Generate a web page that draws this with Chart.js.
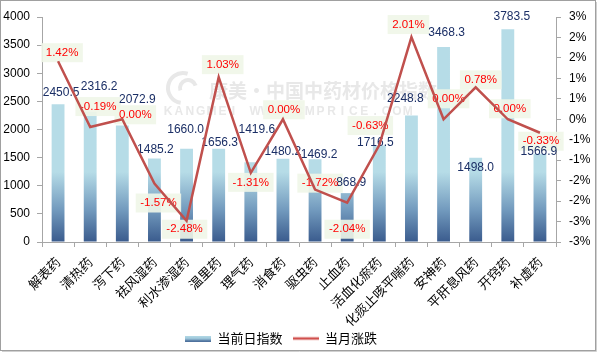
<!DOCTYPE html>
<html>
<head>
<meta charset="utf-8">
<script src="https://cdn.jsdelivr.net/npm/chart.js@4.4.0/dist/chart.umd.min.js"></script>
<style>
  html, body { margin: 0; padding: 0; background: #fff; }
  #wrap { width: 598px; height: 353px; }
</style>
</head>
<body>
<div id="wrap"><canvas id="chart" width="598" height="353"></canvas></div>
<script>
/* ---------------- Data ---------------- */
const categories = ['解表药', '清热药', '泻下药', '祛风湿药', '利水渗湿药', '温里药', '理气药', '消食药',
  '驱虫药', '止血药', '活血化瘀药', '化痰止咳平喘药', '安神药', '平肝息风药', '开窍药', '补虚药'];
const indexValues = [2450.5, 2316.2, 2072.9, 1485.2, 1660.0, 1656.3, 1419.6, 1480.2,
  1469.2, 868.9, 1716.5, 2248.8, 3468.3, 1498.0, 3783.5, 1566.9];
const monthChange = [1.42, -0.19, 0.00, -1.57, -2.48, 1.03, -1.31, 0.00,
  -1.72, -2.04, -0.63, 2.01, 0.00, 0.78, 0.00, -0.33];
const seriesNames = ['当前日指数', '当月涨跌'];

/* label nudges (px) so labels sit where the original ones were dragged */
const barLabelShift = [[3,-11],[9,-25],[15,-26],[1,-9],[-1,-19],[1,-6],[6,-32],[0,-7],
  [4,-5],[4,-10],[-4,-3],[-6,-17],[3,-14],[0,10],[4,-12],[-1,-2]];
const pctLabelShift = [[4,-9],[8,-21],[13,-5],[4,19],[-2,8],[4,-13],[0,9],[1,-10],
  [5,-7],[0,26],[-9,-20],[-3,-13],[5,-21],[5,-8],[2,-11],[1,8]];

const NUM_FONT = "'Liberation Sans', Arial, sans-serif";
const CJK_FONT = "'Noto Sans CJK SC', sans-serif";

/* ---------------- Legend swatches ---------------- */
function swatch(w, h, draw) {
  const c = document.createElement('canvas');
  c.width = w; c.height = h;
  draw(c.getContext('2d'));
  return c;
}
const barSwatch = swatch(26, 6, g => {
  const gr = g.createLinearGradient(0, 0, 0, 6);
  gr.addColorStop(0, '#b6dce7');
  gr.addColorStop(0.55, '#9cc6da');
  gr.addColorStop(1, '#3d5f90');
  g.fillStyle = gr;
  g.fillRect(0, 0, 26, 6);
});
const lineSwatch = swatch(26, 6, g => {
  g.strokeStyle = '#d0504d';
  g.lineWidth = 2.5;
  g.beginPath(); g.moveTo(0, 3); g.lineTo(26, 3); g.stroke();
});

/* ---------------- Plugins ---------------- */
// white page with grey frame; legend nudged to where Excel put it
const framePlugin = {
  id: 'frame',
  afterLayout(chart) {
    const lg = chart.legend;
    if (lg) {
      lg.top += 6; lg.bottom += 6;
      lg.right -= 36;
    }
    // let the long rotated category names run past the axis box (no clipping)
    chart.scales.x.bottom = chart.height;
  },
  beforeDraw(chart) {
    const ctx = chart.ctx;
    ctx.save();
    ctx.fillStyle = '#fff';
    ctx.fillRect(0, 0, chart.width, chart.height);
    ctx.strokeStyle = '#a0a0a0';
    ctx.lineWidth = 1;
    ctx.strokeRect(0.5, 0.5, chart.width - 3, chart.height - 3);
    ctx.strokeStyle = '#d0d0d0';
    ctx.beginPath();
    ctx.moveTo(2, chart.height - 1.5); ctx.lineTo(chart.width - 1.5, chart.height - 1.5); ctx.lineTo(chart.width - 1.5, 2);
    ctx.stroke();
    ctx.restore();
  }
};

// faint watermark behind the series
const watermarkPlugin = {
  id: 'watermark',
  beforeDatasetsDraw(chart) {
    const ctx = chart.ctx;
    ctx.save();
    ctx.fillStyle = '#e8e8e8';
    ctx.strokeStyle = '#e8e8e8';
    ctx.lineWidth = 4;
    ctx.beginPath(); ctx.arc(183, 88, 15, Math.PI * 0.55, Math.PI * 1.6); ctx.stroke();
    ctx.beginPath(); ctx.arc(188, 88, 8, Math.PI * 0.9, Math.PI * 1.9); ctx.stroke();
    ctx.font = 'bold 19px ' + CJK_FONT;
    ctx.textBaseline = 'middle';
    ctx.fillText('康美·中国中药材价格指数', 209, 91);
    ctx.font = 'bold 12px ' + NUM_FONT;
    ctx.textAlign = 'center';
    const mark = 'KANGMEI WWW.CMPRICE.COM';
    for (let i = 0; i < mark.length; i++) {
      ctx.fillText(mark[i], 168 + i * 10.9, 112);
    }
    ctx.restore();
  }
};

// data labels: drawn right after the bars so the line passes over them
const labelPlugin = {
  id: 'valueLabels',
  afterDatasetDraw(chart, args) {
    if (args.index !== 0) return;
    const ctx = chart.ctx;
    const bars = chart.getDatasetMeta(0).data;
    const pts = chart.getDatasetMeta(1).data;
    ctx.save();
    ctx.textAlign = 'center';
    ctx.textBaseline = 'middle';

    // pale boxes behind the % labels first
    ctx.font = '11.5px ' + NUM_FONT;
    ctx.fillStyle = 'rgba(240,246,232,0.9)';
    pts.forEach((pt, i) => {
      const [dx, dy] = pctLabelShift[i];
      const w = ctx.measureText(monthChange[i].toFixed(2) + '%').width + 9;
      ctx.fillRect(pt.x + dx - w / 2, pt.y + dy - 9, w, 19);
    });

    ctx.font = '12px ' + NUM_FONT;
    ctx.fillStyle = '#1b2f66';
    bars.forEach((bar, i) => {
      const [dx, dy] = barLabelShift[i];
      ctx.fillText(indexValues[i].toFixed(1), bar.x + dx, bar.y + dy);
    });

    ctx.font = '11.5px ' + NUM_FONT;
    ctx.fillStyle = '#ff0000';
    pts.forEach((pt, i) => {
      const [dx, dy] = pctLabelShift[i];
      ctx.fillText(monthChange[i].toFixed(2) + '%', pt.x + dx, pt.y + dy + 0.5);
    });
    ctx.restore();
  }
};

/* ---------------- Chart ---------------- */
const PLOT_BOTTOM = 242;

const ctx = document.getElementById('chart').getContext('2d');
const chart = new Chart(ctx, {
  data: {
    labels: categories,
    datasets: [
      {
        type: 'bar',
        label: seriesNames[0],
        data: indexValues,
        yAxisID: 'y',
        order: 1,
        barPercentage: 0.4,
        categoryPercentage: 1.0,
        backgroundColor: (c) => {
          const area = c.chart.chartArea;
          if (!area) return '#b6dce7';
          const g = c.chart.ctx.createLinearGradient(0, area.bottom, 0, area.bottom - 70);
          g.addColorStop(0, '#3a5b8d');
          g.addColorStop(0.45, '#7199bd');
          g.addColorStop(1, '#b6dce7');
          return g;
        }
      },
      {
        type: 'line',
        label: seriesNames[1],
        data: monthChange,
        yAxisID: 'y1',
        order: 0,
        borderColor: '#c0504d',
        borderWidth: 2.5,
        pointRadius: 0,
        tension: 0,
        fill: false
      }
    ]
  },
  options: {
    responsive: false,
    devicePixelRatio: 1,
    animation: false,
    layout: { padding: { top: 17, left: 0, right: 0, bottom: 4 } },
    plugins: {
      tooltip: { enabled: false },
      legend: {
        position: 'bottom',
        labels: {
          usePointStyle: true,
          pointStyleWidth: 26,
          boxHeight: 8,
          padding: 10,
          color: '#000',
          font: { family: CJK_FONT, size: 13 },
          generateLabels: () => [
            { text: seriesNames[0], pointStyle: barSwatch, fillStyle: '#b6dce7', strokeStyle: 'transparent', lineWidth: 0, datasetIndex: 0, hidden: false },
            { text: seriesNames[1], pointStyle: lineSwatch, fillStyle: '#c0504d', strokeStyle: 'transparent', lineWidth: 0, datasetIndex: 1, hidden: false }
          ]
        }
      }
    },
    scales: {
      x: {
        grid: { drawOnChartArea: false, offset: true, tickLength: 5, color: '#a6a6a6' },
        border: { color: '#a6a6a6' },
        ticks: {
          autoSkip: false, minRotation: 45, maxRotation: 45, padding: 7,
          color: '#000', font: { family: CJK_FONT, size: 13 }
        },
        afterFit: (s) => {
          const legendH = s.chart.legend ? s.chart.legend.height : 0;
          s.height = s.chart.height - PLOT_BOTTOM - legendH - 4;
        }
      },
      y: {
        position: 'left',
        min: 0, max: 4000,
        grid: { drawOnChartArea: false, tickLength: 5, color: '#a6a6a6' },
        border: { color: '#a6a6a6' },
        ticks: {
          stepSize: 500, padding: 7, color: '#000', font: { family: NUM_FONT, size: 12 },
          callback: (v) => String(v)
        },
        afterFit: (s) => { s.width = 42; }
      },
      y1: {
        position: 'right',
        min: -3, max: 2.5,
        grid: { drawOnChartArea: false, tickLength: 5, color: '#a6a6a6' },
        border: { color: '#a6a6a6' },
        ticks: {
          stepSize: 0.5, padding: 8, color: '#000', font: { family: NUM_FONT, size: 12 },
          // Excel-style rounding: half steps round away from zero
          callback: (v) => (v < 0 ? '-' : '') + Math.round(Math.abs(v)) + '%'
        },
        afterFit: (s) => { s.width = 42; }
      }
    }
  },
  plugins: [framePlugin, watermarkPlugin, labelPlugin]
});
</script>
</body>
</html>
